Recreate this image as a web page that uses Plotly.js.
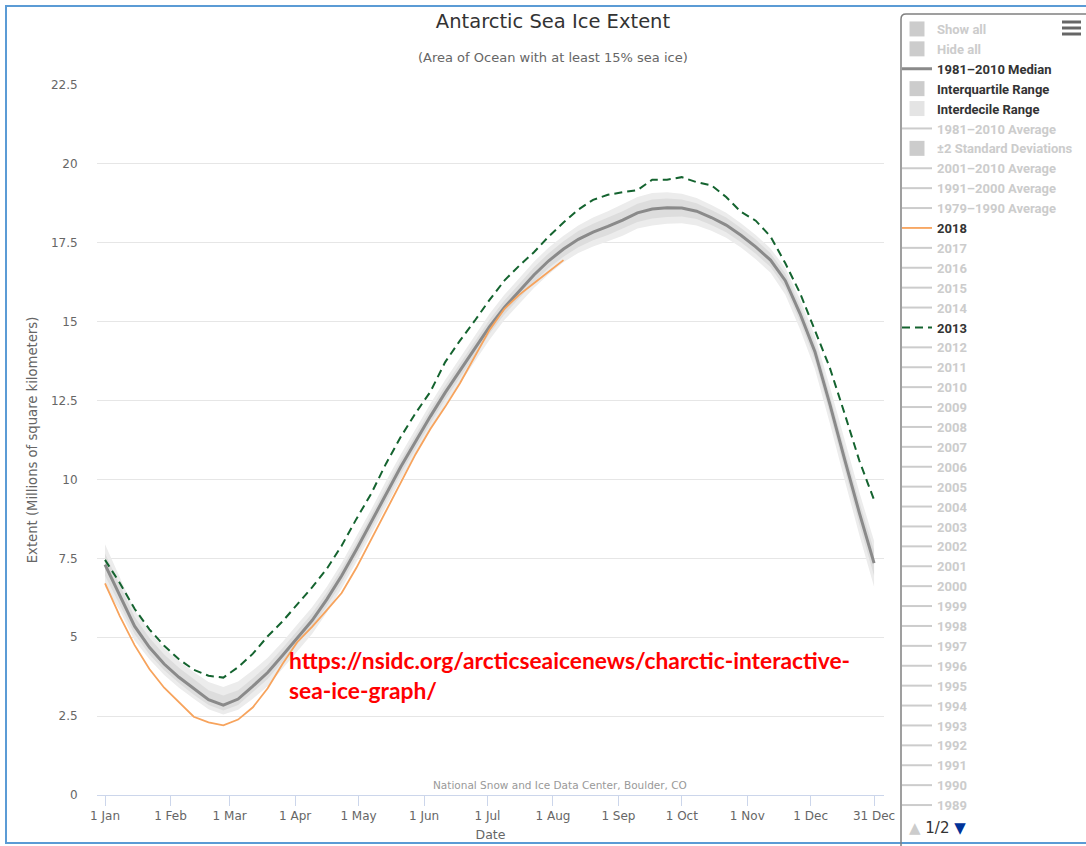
<!DOCTYPE html>
<html>
<head>
<meta charset="utf-8">
<script src="https://cdn.plot.ly/plotly-3.0.1.min.js"></script>
<style>html,body{margin:0;padding:0;background:#fff;}#chart{width:1086px;height:846px;}</style>
</head>
<body>
<div id="chart"></div>
<script>
// ---- data (day of year, 0 = 1 Jan) ----
const days = [0,7,14,21,28,35,42,49,56,63,70,77,84,91,98,105,112,119,126,133,140,147,154,161,168,175,182,189,196,203,210,217,224,231,238,245,252,259,266,273,280,287,294,301,308,315,322,329,336,343,350,357,364];
const median = [7.3,6.35,5.35,4.68,4.15,3.73,3.36,3.02,2.85,3.04,3.45,3.88,4.42,4.98,5.53,6.2,6.95,7.78,8.65,9.55,10.4,11.2,12.0,12.75,13.45,14.15,14.84,15.45,15.97,16.48,16.93,17.3,17.61,17.84,18.02,18.22,18.45,18.57,18.61,18.6,18.5,18.3,18.06,17.74,17.37,16.95,16.3,15.25,14.05,12.4,10.65,8.95,7.35];
const idrHigh = [7.95,6.9,5.85,5.2,4.65,4.25,3.9,3.58,3.42,3.6,3.95,4.35,4.85,5.4,5.95,6.6,7.35,8.2,9.05,9.95,10.8,11.6,12.4,13.15,13.85,14.55,15.25,15.85,16.38,16.9,17.35,17.72,18.05,18.3,18.5,18.72,18.95,19.08,19.1,19.05,18.92,18.7,18.45,18.12,17.75,17.32,16.7,15.7,14.55,12.95,11.25,9.6,8.05];
const idrLow = [6.6,5.85,4.9,4.3,3.8,3.4,3.05,2.72,2.55,2.7,3.05,3.45,4.0,4.55,5.1,5.78,6.55,7.38,8.25,9.15,10.0,10.8,11.6,12.35,13.05,13.75,14.43,15.05,15.57,16.07,16.5,16.88,17.18,17.38,17.55,17.72,17.95,18.05,18.1,18.12,18.05,17.88,17.66,17.35,16.98,16.55,15.85,14.75,13.5,11.8,10.0,8.25,6.6];
const iqrHigh = [7.65,6.65,5.65,4.98,4.45,4.03,3.66,3.32,3.15,3.32,3.7,4.12,4.65,5.2,5.75,6.42,7.17,8.0,8.87,9.77,10.62,11.42,12.22,12.97,13.67,14.37,15.06,15.67,16.2,16.72,17.17,17.55,17.87,18.1,18.3,18.5,18.74,18.87,18.9,18.87,18.75,18.54,18.3,17.97,17.6,17.17,16.53,15.5,14.32,12.7,10.97,9.3,7.75];
const iqrLow = [6.95,6.05,5.1,4.45,3.95,3.55,3.18,2.85,2.68,2.85,3.25,3.68,4.22,4.78,5.32,5.98,6.73,7.56,8.43,9.33,10.18,10.98,11.78,12.53,13.23,13.93,14.62,15.23,15.75,16.25,16.7,17.06,17.36,17.58,17.75,17.95,18.16,18.27,18.32,18.33,18.25,18.06,17.83,17.52,17.15,16.73,16.07,15.0,13.78,12.1,10.32,8.58,6.95];
const extent2013 = [7.45,6.72,5.9,5.25,4.73,4.3,3.97,3.78,3.72,4.05,4.48,5.03,5.5,6.03,6.58,7.17,7.9,8.75,9.55,10.5,11.35,12.1,12.78,13.72,14.4,15.03,15.69,16.3,16.77,17.2,17.7,18.14,18.55,18.86,19.02,19.1,19.17,19.5,19.5,19.58,19.42,19.32,18.95,18.48,18.2,17.7,16.85,15.9,14.7,13.55,12.1,10.6,9.35];
const extent2018 = [6.71,5.67,4.75,3.99,3.4,2.94,2.48,2.3,2.21,2.39,2.78,3.38,4.15,4.85,5.33,5.86,6.4,7.2,8.1,9.0,9.9,10.8,11.6,12.3,13.05,13.9,14.74,15.4,15.85,16.22,16.6,16.95];

const xTickDays = [0,31,59,90,120,151,181,212,243,273,304,334,364];
const xTickLabels = ['1 Jan','1 Feb','1 Mar','1 Apr','1 May','1 Jun','1 Jul','1 Aug','1 Sep','1 Oct','1 Nov','1 Dec','31 Dec'];
const yTickVals = [0,2.5,5,7.5,10,12.5,15,17.5,20,22.5];
const yTickLabels = ['0','2.5','5','7.5','10','12.5','15','17.5','20','22.5'];

const legendTopItems = ['Show all','Hide all'];
const legendAverages = ['2001–2010 Average','1991–2000 Average','1979–1990 Average'];
const yearsAfter2018 = ['2017','2016','2015','2014'];
const yearsBefore2013 = ['2012','2011','2010','2009','2008','2007','2006','2005','2004','2003','2002','2001','2000','1999','1998','1997','1996','1995','1994','1993','1992','1991','1990','1989'];

// ---- helpers for pixel -> paper ----
const L = 97, R = 884, T = 85, B = 795;
const PX = v => (v - L) / (R - L);
const PY = v => (B - v) / (B - T);
const GREY_TXT = '#cccccc';
const grey = s => '<span style="color:' + GREY_TXT + '">' + s + '</span>';

const traces = [];
// bands
traces.push({x: days, y: idrLow, type: 'scatter', mode: 'lines', line: {width: 0, color: '#ececec'}, showlegend: false, hoverinfo: 'skip', legendgroup: 'idr'});
traces.push({x: days, y: idrHigh, type: 'scatter', mode: 'lines', fill: 'tonexty', fillcolor: '#ececec', line: {width: 0, color: '#ececec'}, showlegend: false, hoverinfo: 'skip', legendgroup: 'idr'});
traces.push({x: days, y: iqrLow, type: 'scatter', mode: 'lines', line: {width: 0, color: '#dddddd'}, showlegend: false, hoverinfo: 'skip', legendgroup: 'iqr'});
traces.push({x: days, y: iqrHigh, type: 'scatter', mode: 'lines', fill: 'tonexty', fillcolor: '#dddddd', line: {width: 0, color: '#dddddd'}, showlegend: false, hoverinfo: 'skip', legendgroup: 'iqr'});
// lines
traces.push({x: days, y: median, type: 'scatter', mode: 'lines', name: '1981–2010 Median', line: {color: '#8a8a8a', width: 3}, legendrank: 3});
traces.push({x: days, y: extent2013, type: 'scatter', mode: 'lines', name: '2013', line: {color: '#14632f', width: 2, dash: '8px,5px'}, legendrank: 16});
traces.push({x: days, y: extent2018, type: 'scatter', mode: 'lines', name: '2018', line: {color: '#f7a35c', width: 1.8}, legendrank: 11});

// legend-only entries
function sq(name, color, rank, group) {
  const t = {x: [null], y: [null], type: 'scatter', mode: 'markers', name: name, legendrank: rank, hoverinfo: 'skip',
    marker: {symbol: 'square', size: 15, color: color}};
  if (group) t.legendgroup = group;
  return t;
}
function ln(name, color, rank) {
  return {x: [null], y: [null], type: 'scatter', mode: 'lines', name: name, legendrank: rank, hoverinfo: 'skip',
    line: {color: color, width: 2}};
}
traces.push(sq(grey(legendTopItems[0]), '#cccccc', 1));
traces.push(sq(grey(legendTopItems[1]), '#cccccc', 2));
traces.push(sq('Interquartile Range', '#cccccc', 4, 'iqr'));
traces.push(sq('Interdecile Range', '#e4e4e4', 5, 'idr'));
traces.push(ln(grey('1981–2010 Average'), '#cccccc', 6));
traces.push(sq(grey('±2 Standard Deviations'), '#cccccc', 7));
legendAverages.forEach((n, i) => traces.push(ln(grey(n), '#cccccc', 8 + i)));
yearsAfter2018.forEach((n, i) => traces.push(ln(grey(n), '#cccccc', 12 + i)));
yearsBefore2013.forEach((n, i) => traces.push(ln(grey(n), '#cccccc', 17 + i)));

const layout = {
  width: 1086, height: 846,
  margin: {l: L, r: 1086 - R, t: T, b: 846 - B, autoexpand: false},
  paper_bgcolor: '#ffffff', plot_bgcolor: '#ffffff',
  font: {family: 'DejaVu Sans', color: '#666666', size: 12},
  title: {text: 'Antarctic Sea Ice Extent', xref: 'container', x: 553 / 1086, xanchor: 'center',
    yref: 'container', y: 1 - 21 / 846, yanchor: 'middle', font: {family: 'DejaVu Sans', size: 19.5, color: '#333333'}},
  xaxis: {range: [-3.79, 368.7], tickmode: 'array', tickvals: xTickDays, ticktext: xTickLabels,
    ticks: 'outside', ticklen: 10, tickcolor: '#ccd6eb', tickwidth: 1,
    showline: true, linecolor: '#ccd6eb', linewidth: 1, showgrid: false, zeroline: false,
    tickfont: {size: 12, color: '#666666'}, title: {text: 'Date', font: {size: 12.5, color: '#666666'}, standoff: 7}},
  yaxis: {range: [0, 22.5], tickmode: 'array', tickvals: yTickVals, ticktext: yTickLabels,
    ticks: 'outside', ticklen: 16, tickcolor: 'rgba(0,0,0,0)', showgrid: true, gridcolor: '#e6e6e6', gridwidth: 1,
    zeroline: false, showline: false, tickfont: {size: 12, color: '#666666'},
    title: {text: 'Extent (Millions of square kilometers)', font: {size: 13.2, color: '#666666'}, standoff: 10}},
  showlegend: true,
  legend: {x: PX(897), xanchor: 'left', y: PY(14), yanchor: 'top', traceorder: 'normal',
    bgcolor: 'rgba(0,0,0,0)', borderwidth: 0, maxheight: 830, tracegroupgap: 0,
    font: {family: 'Roboto', size: 13, color: '#333333', weight: 'bold'}},
  annotations: [
    {xref: 'paper', yref: 'paper', x: PX(553), y: PY(57), xanchor: 'center', yanchor: 'middle', showarrow: false,
      text: '(Area of Ocean with at least 15% sea ice)', font: {size: 13, color: '#666666'}},
    {xref: 'paper', yref: 'paper', x: PX(560), y: PY(785), xanchor: 'center', yanchor: 'middle', showarrow: false,
      text: 'National Snow and Ice Data Center, Boulder, CO', font: {size: 10.5, color: '#999999'}},
    {xref: 'paper', yref: 'paper', x: PX(287), y: PY(660), xanchor: 'left', yanchor: 'middle', showarrow: false,
      text: '<b>https://nsidc.org/arcticseaicenews/charctic-interactive-</b>', font: {family: 'Lato', size: 22.8, color: '#ff0000'}},
    {xref: 'paper', yref: 'paper', x: PX(287), y: PY(690), xanchor: 'left', yanchor: 'middle', showarrow: false,
      text: '<b>sea-ice-graph/</b>', font: {family: 'Lato', size: 22.8, color: '#ff0000'}},
    {xref: 'paper', yref: 'paper', x: PX(907), y: PY(828), xanchor: 'left', yanchor: 'middle', showarrow: false,
      text: '<span style="color:#cccccc">▲</span> <span style="color:#333333">1/2</span> <span style="color:#003399">▼</span>',
      font: {family: 'DejaVu Sans', size: 15, color: '#333333'}}
  ],
  shapes: [
    {type: 'rect', xref: 'paper', yref: 'paper', x0: PX(6), x1: PX(1095), y0: PY(843), y1: PY(6),
      line: {color: '#5b9bd5', width: 2}, fillcolor: 'rgba(0,0,0,0)', layer: 'above'},
    {type: 'path', xref: 'paper', yref: 'paper', layer: 'above', line: {color: '#808080', width: 1.5},
      path: 'M' + PX(901) + ',' + PY(860) + ' L' + PX(901) + ',' + PY(19) + ' Q' + PX(901) + ',' + PY(14) + ' ' + PX(906) + ',' + PY(14) + ' L' + PX(1100) + ',' + PY(14)},
    {type: 'line', xref: 'paper', yref: 'paper', x0: PX(1062), x1: PX(1081), y0: PY(22), y1: PY(22), line: {color: '#666666', width: 3}},
    {type: 'line', xref: 'paper', yref: 'paper', x0: PX(1062), x1: PX(1081), y0: PY(28), y1: PY(28), line: {color: '#666666', width: 3}},
    {type: 'line', xref: 'paper', yref: 'paper', x0: PX(1062), x1: PX(1081), y0: PY(34), y1: PY(34), line: {color: '#666666', width: 3}}
  ]
};

Plotly.newPlot('chart', traces, layout, {displayModeBar: false, responsive: false});
</script>
</body>
</html>
